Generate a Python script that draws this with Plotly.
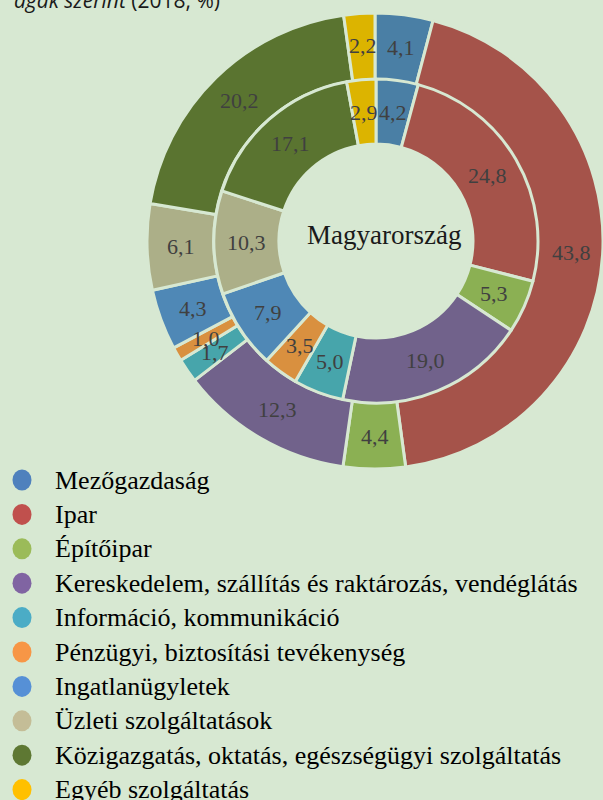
import math
import plotly.graph_objects as go

categories = [
    "Mezőgazdaság",
    "Ipar",
    "Építőipar",
    "Kereskedelem, szállítás és raktározás, vendéglátás",
    "Információ, kommunikáció",
    "Pénzügyi, biztosítási tevékenység",
    "Ingatlanügyletek",
    "Üzleti szolgáltatások",
    "Közigazgatás, oktatás, egészségügyi szolgáltatás",
    "Egyéb szolgáltatás",
]
outer_values = [4.1, 43.8, 4.4, 12.3, 1.7, 1.0, 4.3, 6.1, 20.2, 2.2]
inner_values = [4.2, 24.8, 5.3, 19.0, 5.0, 3.5, 7.9, 10.3, 17.1, 2.9]
center_label = "Magyarország"
title_italic = "ágak szerint"
title_rest = " (2018, %)"

slice_colors = ["#4a7fa5", "#a5534a", "#8bb053", "#71628b", "#47a5ab",
                "#d9903f", "#4f88b6", "#acaf88", "#5a7430", "#dcb400"]
legend_colors = ["#4f81bd", "#c0504d", "#9bbb59", "#8064a2", "#4bacc6",
                 "#f79646", "#5690d6", "#c4bd97", "#5e7833", "#ffc000"]

BG = "#d7e8d2"
W, H = 603, 800
CX, CY = 376.0, 241.0
R_OUT = 229.0
R_MID = 162.0
R_IN = 97.0

def px_x(x):
    return x / W

def px_y(y):
    return 1 - y / H

def fmt(v):
    return f"{v:.1f}".replace(".", ",")

fig = go.Figure()

fig.add_trace(go.Pie(
    values=outer_values, labels=categories, sort=False, direction="clockwise",
    rotation=0, hole=R_MID / R_OUT, textinfo="none", hoverinfo="label+value",
    marker=dict(colors=slice_colors, line=dict(color=BG, width=3)),
    domain=dict(x=[px_x(CX - R_OUT), min(1, px_x(CX + R_OUT))],
                y=[px_y(CY + R_OUT), px_y(CY - R_OUT)]),
    showlegend=False,
))
fig.add_trace(go.Pie(
    values=inner_values, labels=categories, sort=False, direction="clockwise",
    rotation=0, hole=R_IN / R_MID, textinfo="none", hoverinfo="label+value",
    marker=dict(colors=slice_colors, line=dict(color=BG, width=3)),
    domain=dict(x=[px_x(CX - R_MID), px_x(CX + R_MID)],
                y=[px_y(CY + R_MID), px_y(CY - R_MID)]),
    showlegend=False,
))

annotations = []
label_font = dict(family="Liberation Serif, Times New Roman, serif", size=22, color="#404040")

def ring_labels(values, r_mid):
    total = sum(values)
    cum = 0.0
    for v in values:
        ang = 2 * math.pi * (cum + v / 2) / total
        x = CX + r_mid * math.sin(ang)
        y = CY - r_mid * math.cos(ang)
        annotations.append(dict(x=px_x(x), y=px_y(y), xref="paper", yref="paper",
                                text=fmt(v), showarrow=False, font=label_font,
                                xanchor="center", yanchor="middle"))
        cum += v

ring_labels(outer_values, (R_MID + R_OUT) / 2)
ring_labels(inner_values, (R_IN + R_MID) / 2)

annotations.append(dict(x=px_x(CX + 8), y=px_y(CY - 6), xref="paper", yref="paper",
                        text=center_label, showarrow=False,
                        font=dict(family="Liberation Serif, serif", size=27, color="#1a1a1a"),
                        xanchor="center", yanchor="middle"))

annotations.append(dict(x=px_x(12), y=1.0, xref="paper", yref="paper",
                        text=f"<i>{title_italic}</i>{title_rest}", showarrow=False,
                        font=dict(family="Open Sans, sans-serif", size=21, color="#1a1a1a"),
                        xanchor="left", yanchor="middle"))

shapes = []
LEG_Y0, LEG_DY = 480.0, 34.4
for i, (name, col) in enumerate(zip(categories, legend_colors)):
    yc = LEG_Y0 + i * LEG_DY
    shapes.append(dict(type="circle", xref="paper", yref="paper",
                       x0=px_x(12.5), x1=px_x(31.5), y0=px_y(yc + 10.5), y1=px_y(yc - 10.5),
                       fillcolor=col, line=dict(width=0)))
    annotations.append(dict(x=px_x(53), y=px_y(yc), xref="paper", yref="paper",
                            text=name, showarrow=False,
                            font=dict(family="Liberation Serif, serif", size=26, color="#000000"),
                            xanchor="left", yanchor="middle"))

fig.update_layout(
    width=W, height=H,
    margin=dict(l=0, r=0, t=0, b=0),
    paper_bgcolor=BG, plot_bgcolor=BG,
    annotations=annotations, shapes=shapes,
    showlegend=False,
)

fig.write_html(
    "out.html",
    config={"displayModeBar": False},
    post_script="document.body.style.margin='0';document.body.style.padding='0';"
                "document.body.style.overflow='hidden';"
                "document.documentElement.style.overflow='hidden';",
)
